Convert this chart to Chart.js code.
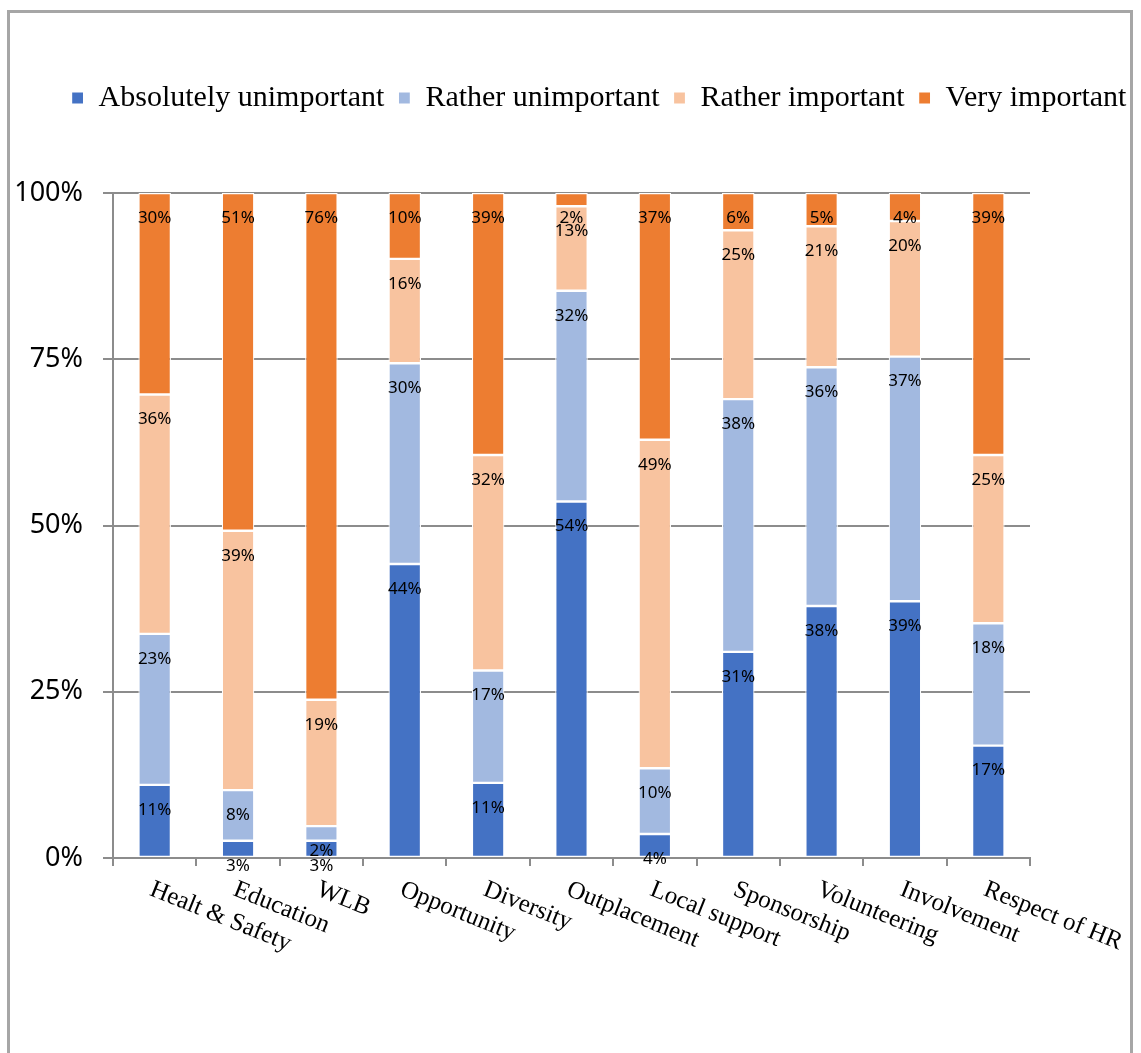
<!DOCTYPE html>
<html>
<head>
<meta charset="utf-8">
<script src="https://cdn.jsdelivr.net/npm/chart.js@4.4.1/dist/chart.umd.min.js"></script>
<style>
  html, body { margin: 0; padding: 0; background: #fff; }
  #frame { position: absolute; left: 7px; top: 10px; width: 1120px; height: 1050px; border: 3px solid #a6a6a6; }
  #c { display: block; }
</style>
</head>
<body>
<div id="frame"><canvas id="c" width="1120" height="1050"></canvas></div>
<script>
// Categories along the x axis
const categories = ['Healt & Safety', 'Education', 'WLB', 'Opportunity', 'Diversity', 'Outplacement',
  'Local support', 'Sponsorship', 'Volunteering', 'Involvement', 'Respect of HR'];

// Series names (stacked bottom to top)
const seriesNames = ['Absolutely unimportant', 'Rather unimportant', 'Rather important', 'Very important'];

// Share of answers per category, in percent
const absolutelyUnimportant = [11.0, 2.6, 2.6, 44.2, 11.3, 53.6, 3.6, 31.0, 37.9, 38.6, 16.9];
const ratherUnimportant     = [22.7, 7.6, 2.2, 30.2, 16.9, 31.7, 9.9, 38.0, 35.9, 36.8, 18.4];
const ratherImportant       = [36.0, 39.0, 19.0, 15.7, 32.4, 12.7, 49.4, 25.4, 21.2, 20.4, 25.3];
const veryImportant         = [30.3, 50.8, 76.2, 9.9, 39.4, 2.0, 37.1, 5.6, 5.0, 4.2, 39.4];

// Y axis tick values
const yTicks = [0, 25, 50, 75, 100];

const seriesValues = [absolutelyUnimportant, ratherUnimportant, ratherImportant, veryImportant];
const seriesColors = ['#4472C4', '#A2B9E0', '#F8C39F', '#ED7D31'];

const GRID = '#8c8c8c';

// Percentage labels placed just under the top edge of every segment
const segmentLabels = {
  id: 'segmentLabels',
  afterDatasetsDraw(chart) {
    const ctx = chart.ctx;
    ctx.save();
    ctx.font = '17px "Noto Sans"';
    ctx.fillStyle = '#000';
    ctx.textAlign = 'center';
    ctx.textBaseline = 'middle';
    chart.data.datasets.forEach((ds, di) => {
      const meta = chart.getDatasetMeta(di);
      meta.data.forEach((el, i) => {
        ctx.fillText(Math.round(ds.data[i]) + '%', el.x, el.y + 25);
      });
    });
    ctx.restore();
  }
};

// Category names, slanted downwards to the right from each tick
const slantedCategoryLabels = {
  id: 'slantedCategoryLabels',
  afterDraw(chart) {
    const xs = chart.scales.x;
    const ctx = chart.ctx;
    ctx.save();
    ctx.font = '25px "Liberation Serif"';
    ctx.fillStyle = '#000';
    ctx.textAlign = 'left';
    ctx.textBaseline = 'top';
    categories.forEach((name, i) => {
      const px = xs.getPixelForTick(i);
      ctx.save();
      ctx.translate(px + 1, xs.top + 19);
      ctx.rotate(22 * Math.PI / 180);
      ctx.fillText(name, 0, 0);
      ctx.restore();
    });
    ctx.restore();
  }
};

// Extra room between the legend and the plot
const legendGap = {
  id: 'legendGap',
  beforeInit(chart) {
    const fit = chart.legend.fit;
    chart.legend.fit = function () {
      fit.bind(chart.legend)();
      this.height += 70;
    };
  }
};

new Chart(document.getElementById('c'), {
  type: 'bar',
  data: {
    labels: categories,
    datasets: seriesNames.map((name, i) => ({
      label: name,
      data: seriesValues[i],
      backgroundColor: seriesColors[i],
      borderColor: '#ffffff',
      borderWidth: 1.2,
      borderSkipped: false,
      categoryPercentage: 1.0,
      barPercentage: 0.39
    }))
  },
  options: {
    responsive: false,
    animation: false,
    layout: { padding: { left: 0, right: -58, top: 56, bottom: 195 } },
    plugins: {
      legend: {
        position: 'top',
        align: 'center',
        labels: {
          font: { family: 'Liberation Serif', size: 30 },
          color: '#000',
          boxWidth: 12,
          boxHeight: 12,
          padding: 14
        }
      },
      tooltip: { enabled: false }
    },
    scales: {
      x: {
        stacked: true,
        afterFit(s) { s.height = 10; },
        ticks: { display: false },
        grid: { display: true, drawOnChartArea: false, drawTicks: true, tickLength: 8, color: GRID, lineWidth: 2, offset: true },
        border: { display: true, color: GRID, width: 2 }
      },
      y: {
        stacked: true,
        min: 0,
        max: 100,
        afterFit(s) { s.width = 103; },
        afterBuildTicks(s) { s.ticks = yTicks.map(v => ({ value: v })); },
        ticks: {
          callback: v => v + '%',
          font: { family: 'Noto Sans', size: 27 },
          color: '#000',
          padding: 20
        },
        grid: { color: GRID, lineWidth: 2, tickLength: 10 },
        border: { display: true, color: GRID, width: 2 }
      },
      yRight: {
        position: 'right',
        display: true,
        min: 0,
        max: 100,
        afterFit(s) { s.width = 158; },
        ticks: { display: false },
        grid: { display: false },
        border: { display: false }
      }
    }
  },
  plugins: [legendGap, segmentLabels, slantedCategoryLabels]
});
</script>
</body>
</html>
